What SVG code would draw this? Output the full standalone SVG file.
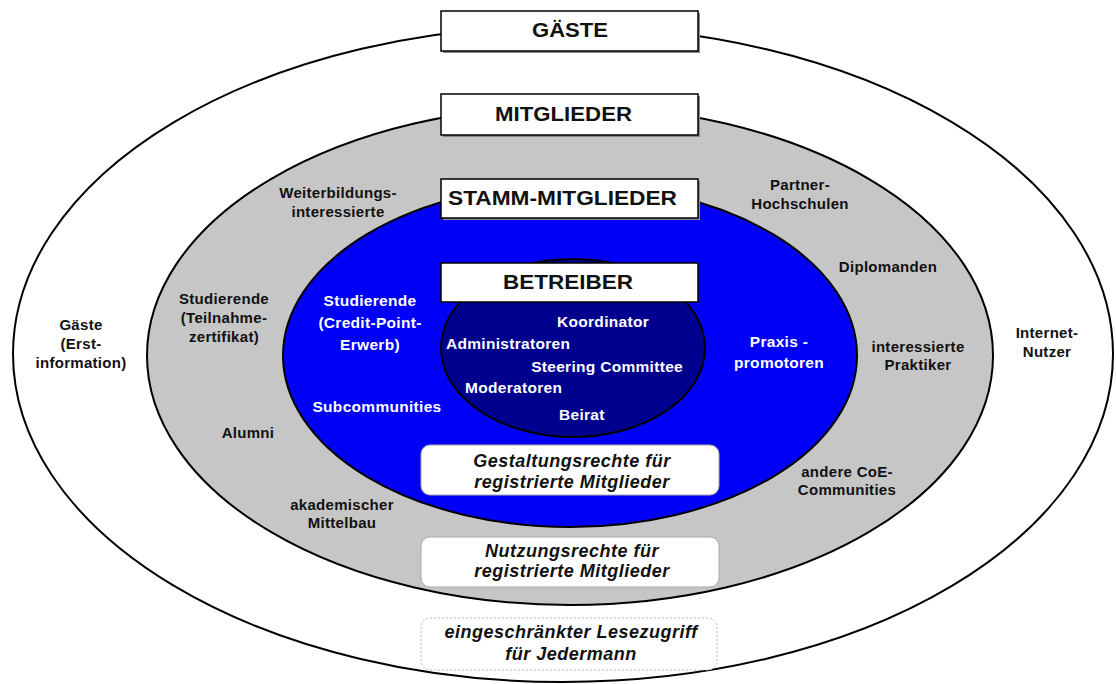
<svg xmlns="http://www.w3.org/2000/svg" width="1116" height="684" viewBox="0 0 1116 684">
<defs>
<style>
.t{font-family:"Liberation Sans",Arial,sans-serif;font-weight:bold;font-size:15px;letter-spacing:0.3px;text-anchor:middle;fill:#111}
.w{fill:#fff;font-size:15.5px}
.s{text-anchor:start}
.e{text-anchor:end}
.h{font-family:"Liberation Sans",Arial,sans-serif;font-weight:bold;font-size:20px;fill:#111}
.i{font-family:"Liberation Sans",Arial,sans-serif;font-weight:bold;font-style:italic;font-size:18px;letter-spacing:0.5px;text-anchor:middle;fill:#111}
.box{fill:#fff;stroke:#000;stroke-width:1.5}
.sh{fill:#888}
.rbox{fill:#fff;stroke:#aaa;stroke-width:1}
.ring{stroke:#000;stroke-width:2}
</style>
</defs>
<g id="rings">
<ellipse id="outer" class="ring" cx="563" cy="354" rx="550" ry="328" fill="#fff"/>
<ellipse id="gray" class="ring" cx="570" cy="355.5" rx="423" ry="249.5" fill="#c6c6c6"/>
<ellipse id="blue" class="ring" cx="570" cy="355.5" rx="287" ry="171.5" fill="#0000f6"/>
<ellipse id="dark" class="ring" cx="573" cy="348" rx="132" ry="89" fill="#00008e"/>
</g>
<g id="connectors"></g>
<g id="gaeste-box"><rect class="sh" x="443" y="13" width="257" height="40"/><rect class="box" x="441" y="11" width="257" height="40"/><text class="h" x="532" y="37" textLength="76" lengthAdjust="spacingAndGlyphs">GÄSTE</text></g>
<g id="mitglieder-box"><rect class="sh" x="443" y="96" width="257" height="41"/><rect class="box" x="441" y="94" width="257" height="41"/><text class="h" x="495" y="121" textLength="137" lengthAdjust="spacingAndGlyphs">MITGLIEDER</text></g>
<g id="stamm-box"><rect class="sh" x="443" y="181" width="257" height="39"/><rect class="box" x="441" y="179" width="257" height="39"/><text class="h" x="448" y="205" textLength="229" lengthAdjust="spacingAndGlyphs">STAMM-MITGLIEDER</text></g>
<g id="betreiber-box"><rect class="box" x="441" y="263" width="257" height="39" stroke-width="1.2"/><text class="h" x="503" y="289" textLength="130" lengthAdjust="spacingAndGlyphs">BETREIBER</text></g>
<g id="gestaltung-box"><rect class="rbox" x="421" y="445" width="298" height="50" rx="9"/><text class="i" x="572" y="467">Gestaltungsrechte für</text><text class="i" x="572" y="488">registrierte Mitglieder</text></g>
<g id="nutzung-box"><rect class="rbox" x="421" y="537" width="298" height="50" rx="9"/><text class="i" x="572" y="557">Nutzungsrechte für</text><text class="i" x="572" y="577">registrierte Mitglieder</text></g>
<g id="lese-box"><rect x="421" y="618" width="296" height="52" rx="9" fill="#fff" stroke="#bbb" stroke-width="1" stroke-dasharray="2 2"/><text class="i" x="571" y="638">eingeschränkter Lesezugriff</text><text class="i" x="571" y="660">für Jedermann</text></g>
<g id="weiterbildung"><text class="t" x="338" y="198">Weiterbildungs-</text><text class="t" x="338" y="217">interessierte</text></g>
<g id="partner"><text class="t" x="800" y="190">Partner-</text><text class="t" x="800" y="209">Hochschulen</text></g>
<g id="diplomanden"><text class="t" x="888" y="272">Diplomanden</text></g>
<g id="gaeste-erst"><text class="t" x="81" y="330">Gäste</text><text class="t" x="81" y="349">(Erst-</text><text class="t" x="81" y="368">information)</text></g>
<g id="studierende-tz"><text class="t" x="224" y="304">Studierende</text><text class="t" x="224" y="323">(Teilnahme-</text><text class="t" x="224" y="342">zertifikat)</text></g>
<g id="studierende-cp"><text class="t w" x="370" y="306">Studierende</text><text class="t w" x="370" y="328">(Credit-Point-</text><text class="t w" x="370" y="350">Erwerb)</text></g>
<g id="subcommunities"><text class="t w" x="377" y="412">Subcommunities</text></g>
<g id="alumni"><text class="t" x="248" y="438">Alumni</text></g>
<g id="koordinator"><text class="t w s" x="557" y="327">Koordinator</text></g>
<g id="administratoren"><text class="t w s" x="446" y="349">Administratoren</text></g>
<g id="steering"><text class="t w e" x="683" y="372">Steering Committee</text></g>
<g id="moderatoren"><text class="t w s" x="465" y="393">Moderatoren</text></g>
<g id="beirat"><text class="t w s" x="559" y="420">Beirat</text></g>
<g id="praxis"><text class="t w" x="779" y="347">Praxis -</text><text class="t w" x="779" y="368">promotoren</text></g>
<g id="praktiker"><text class="t" x="918" y="352">interessierte</text><text class="t" x="918" y="370">Praktiker</text></g>
<g id="internet"><text class="t" x="1047" y="338">Internet-</text><text class="t" x="1047" y="357">Nutzer</text></g>
<g id="coe"><text class="t" x="847" y="477">andere CoE-</text><text class="t" x="847" y="495">Communities</text></g>
<g id="mittelbau"><text class="t" x="342" y="510">akademischer</text><text class="t" x="342" y="528">Mittelbau</text></g>
</svg>
